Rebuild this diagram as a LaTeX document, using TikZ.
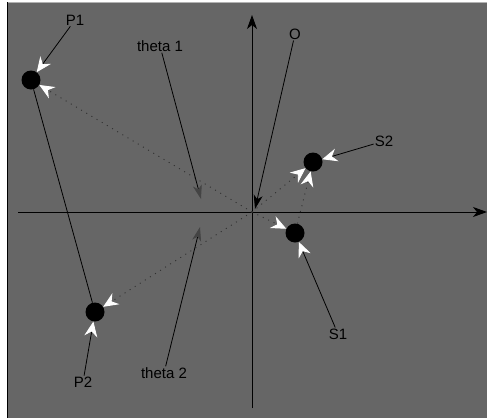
\documentclass[tikz,border=0pt]{standalone}
\usepackage{fontspec}
\setmainfont{Liberation Sans}
\usetikzlibrary{arrows.meta}
\definecolor{bggray}{HTML}{666666}
\definecolor{dotgray}{HTML}{303030}
\definecolor{thgray}{HTML}{444444}
\tikzset{
  lbl/.style={font=\fontsize{15}{17}\selectfont, inner sep=1pt, text=black},
  pt/.style={circle, fill=black, minimum size=19pt, inner sep=0pt},
  wtip/.style={-{Stealth[length=15pt,width=13pt,inset=5pt,color=white,fill=white]}},
  pointer/.style={draw=black, line width=0.8pt, wtip},
  ray/.style={draw=dotgray, line width=0.9pt, dash pattern=on 1pt off 5pt, wtip},
  thptr/.style={draw=black, line width=0.8pt, -{Stealth[length=14pt,width=9pt,inset=4pt,color=thgray,fill=thgray]}},
  axis/.style={draw=black, line width=0.9pt, -{Stealth[length=14pt,width=10pt,inset=4pt]}}
}
\begin{document}
\begin{tikzpicture}[x=1pt,y=-1pt]
\useasboundingbox (0,0) rectangle (487,418);
\fill[white] (0,0) rectangle (487,418);
\fill[bggray] (7,2) rectangle (487,418);
\draw[black!30, line width=0.8pt] (7,2) -- (487,2);
\draw[black, line width=1pt] (7,2) -- (7,418);

% axes
\coordinate (xs) at (18,212);
\coordinate (xe) at (487,212);
\coordinate (ys) at (252,408);
\coordinate (ye) at (252,15);
\coordinate (C) at (252,212);
\draw[axis] (xs) -- (xe);
\draw[axis] (ys) -- (ye);

% points
\node[pt] (P1) at (31,80) {};
\node[pt] (P2) at (95,312) {};
\node[pt] (S2) at (313,162) {};
\node[pt] (S1) at (295,233) {};

% labels
\node[lbl] (P1l) at (75,20) {P1};
\node[lbl] (t1l) at (160,46) {theta 1};
\node[lbl] (Ol) at (295,34) {O};
\node[lbl] (S2l) at (384,141) {S2};
\node[lbl] (S1l) at (338,334) {S1};
\node[lbl] (P2l) at (83,382) {P2};
\node[lbl] (t2l) at (164,373) {theta 2};

% solid P1-P2
\draw[black, line width=0.8pt] (P1) -- (P2);

% dotted rays
\draw[ray] (C) -- (P1);
\draw[ray] (C) -- (P2);
\draw[ray] (C) -- (S1);
\draw[ray] (C) -- (S2);
\draw[ray] (S1) -- (S2);

% label pointers
\draw[pointer] (P1l) -- (P1);
\draw[pointer] (P2l) -- (P2);
\draw[pointer] (S2l) -- (S2);
\draw[pointer] (S1l) -- (S1);

\coordinate (t1e) at (201,199);
\coordinate (t2e) at (200,227);
\coordinate (Oe) at (255,209);
\draw[thptr] (t1l) -- (t1e);
\draw[thptr] (t2l) -- (t2e);
\draw[draw=black, line width=0.8pt, -{Stealth[length=14pt,width=9pt,inset=4pt]}] (Ol) -- (Oe);
\end{tikzpicture}
\end{document}
